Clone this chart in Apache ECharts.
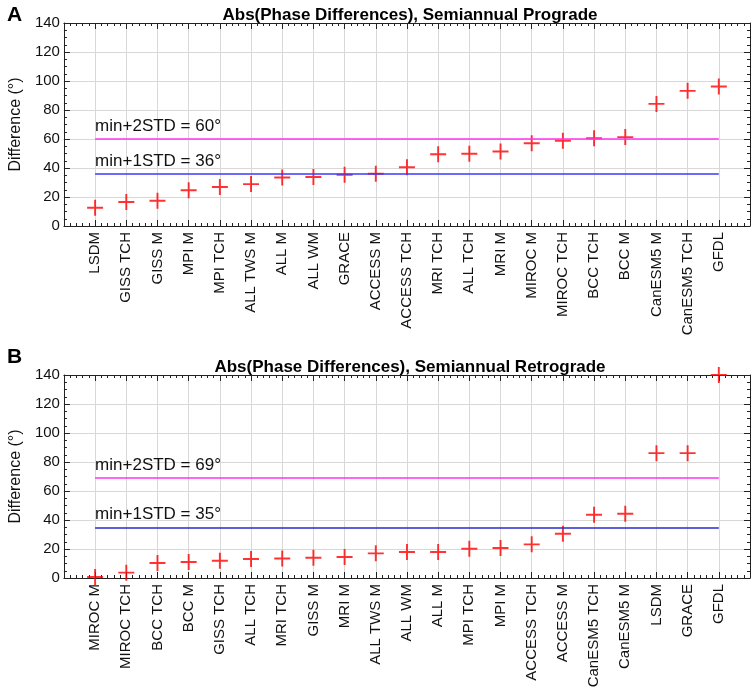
<!DOCTYPE html>
<html>
<head>
<meta charset="utf-8">
<script src="https://cdn.jsdelivr.net/npm/echarts@6/dist/echarts.min.js"></script>
<style>
  html, body { margin: 0; padding: 0; background: #fff; }
  #main { width: 754px; height: 693px; }
</style>
</head>
<body>
<div id="main"></div>
<script>
// panel A: semiannual prograde
var progradeNames = ['LSDM', 'GISS TCH', 'GISS M', 'MPI M', 'MPI TCH', 'ALL TWS M', 'ALL M', 'ALL WM', 'GRACE',
  'ACCESS M', 'ACCESS TCH', 'MRI TCH', 'ALL TCH', 'MRI M', 'MIROC M', 'MIROC TCH', 'BCC TCH', 'BCC M',
  'CanESM5 M', 'CanESM5 TCH', 'GFDL'];
var progradeValues = [12.6, 16.5, 17.4, 24.6, 26.9, 28.9, 33.5, 33.8, 35.3, 36.0, 40.5, 49.5, 49.8, 51.4,
  57.1, 58.8, 60.5, 61.3, 84.2, 93.2, 96.2];
var progradeStd = [36, 60];

// panel B: semiannual retrograde
var retroNames = ['MIROC M', 'MIROC TCH', 'BCC TCH', 'BCC M', 'GISS TCH', 'ALL TCH', 'MRI TCH', 'GISS M', 'MRI M',
  'ALL TWS M', 'ALL WM', 'ALL M', 'MPI TCH', 'MPI M', 'ACCESS TCH', 'ACCESS M', 'CanESM5 TCH', 'CanESM5 M',
  'LSDM', 'GRACE', 'GFDL'];
var retroValues = [0.7, 3.7, 10.3, 11.0, 11.9, 13.1, 13.5, 14.0, 14.5, 17.0, 17.9, 17.9, 20.2, 20.7, 23.2,
  30.5, 43.6, 44.3, 86.1, 86.1, 140];
var retroStd = [35, 69];

var font = 'Liberation Sans, Arial, sans-serif';
// filled "+" marker
var cross = 'path://M-0.12,-1L0.12,-1L0.12,-0.12L1,-0.12L1,0.12L0.12,0.12L0.12,1L-0.12,1L-0.12,0.12L-1,0.12L-1,-0.12L-0.12,-0.12Z';

var myChart = echarts.init(document.getElementById('main'));

function xAxes(names, gi) {
  var n = names.length;
  return [{
    type: 'value', gridIndex: gi, min: -1, max: n, interval: 1, position: 'bottom',
    axisLine: { onZero: false, lineStyle: { color: '#222', width: 1 } },
    axisTick: { inside: true, length: 6, lineStyle: { color: '#222' } },
    minorTick: { show: true, splitNumber: 5, length: 3, lineStyle: { color: '#222' } },
    splitLine: { show: true, lineStyle: { color: '#d8d8d8' } },
    axisLabel: {
      rotate: 90, fontSize: 15, color: '#111', fontFamily: font, margin: 6,
      formatter: function (v) { return names[v] || ''; }
    }
  }, {
    type: 'value', gridIndex: gi, min: -1, max: n, interval: 1, position: 'top',
    axisLine: { onZero: false, lineStyle: { color: '#222', width: 1 } },
    axisTick: { inside: true, length: 6, lineStyle: { color: '#222' } },
    minorTick: { show: true, splitNumber: 5, length: 3, lineStyle: { color: '#222' } },
    splitLine: { show: false },
    axisLabel: { show: false }
  }];
}

function yAxes(gi) {
  return [{
    type: 'value', gridIndex: gi, min: 0, max: 140, interval: 20, position: 'left',
    name: 'Difference (°)', nameLocation: 'middle', nameGap: 38,
    nameTextStyle: { fontSize: 16, color: '#111', fontFamily: font },
    axisLine: { show: true, onZero: false, lineStyle: { color: '#222', width: 1 } },
    axisTick: { show: true, inside: true, length: 6, lineStyle: { color: '#222' } },
    minorTick: { show: true, splitNumber: 4, length: 3, lineStyle: { color: '#222' } },
    splitLine: { show: true, lineStyle: { color: '#d8d8d8' } },
    axisLabel: { fontSize: 15, color: '#111', fontFamily: font, margin: 4 }
  }, {
    type: 'value', gridIndex: gi, min: 0, max: 140, interval: 20, position: 'right',
    axisLine: { show: true, onZero: false, lineStyle: { color: '#222', width: 1 } },
    axisTick: { show: true, inside: true, length: 6, lineStyle: { color: '#222' } },
    minorTick: { show: true, splitNumber: 4, length: 3, lineStyle: { color: '#222' } },
    splitLine: { show: false },
    axisLabel: { show: false }
  }];
}

function stdLine(v, k, color) {
  return [{
    coord: [0, v], lineStyle: { color: color, width: 1.5, type: 'solid' },
    label: {
      show: true, position: 'insideStartTop', distance: [0, 4],
      formatter: 'min+' + k + 'STD = ' + v + '°',
      fontSize: 17, color: '#111', fontFamily: font, padding: 0
    }
  }, { coord: [20, v] }];
}

function pts(values) {
  var out = [];
  for (let i = 0; i < values.length; i++) out.push([i, values[i]]);
  return out;
}

var option = {
  animation: false,
  title: [
    { text: 'A', left: 2, top: 0, textStyle: { fontSize: 21, fontWeight: 'bold', color: '#000', fontFamily: font } },
    { text: 'Abs(Phase Differences), Semiannual Prograde', left: 405, textAlign: 'center', top: 2,
      textStyle: { fontSize: 17, fontWeight: 'bold', color: '#000', fontFamily: font } },
    { text: 'B', left: 2, top: 342, textStyle: { fontSize: 21, fontWeight: 'bold', color: '#000', fontFamily: font } },
    { text: 'Abs(Phase Differences), Semiannual Retrograde', left: 405, textAlign: 'center', top: 354,
      textStyle: { fontSize: 17, fontWeight: 'bold', color: '#000', fontFamily: font } }
  ],
  grid: [
    { left: 60, top: 23, width: 690, height: 203 },
    { left: 60, top: 375, width: 690, height: 203 }
  ],
  xAxis: xAxes(progradeNames, 0).concat(xAxes(retroNames, 1)),
  yAxis: yAxes(0).concat(yAxes(1)),
  series: [{
    type: 'scatter', xAxisIndex: 0, yAxisIndex: 0,
    symbol: cross, symbolSize: 16, itemStyle: { color: '#ff0000' },
    data: pts(progradeValues),
    markLine: {
      silent: true, symbol: 'none',
      data: [stdLine(progradeStd[1], 2, '#ff33ee'), stdLine(progradeStd[0], 1, '#3a3aff')]
    }
  }, {
    type: 'scatter', xAxisIndex: 2, yAxisIndex: 2,
    symbol: cross, symbolSize: 16, itemStyle: { color: '#ff0000' },
    data: pts(retroValues),
    markLine: {
      silent: true, symbol: 'none',
      data: [stdLine(retroStd[1], 2, '#ff33ee'), stdLine(retroStd[0], 1, '#2a2acc')]
    }
  }]
};
myChart.setOption(option);
</script>
</body>
</html>
